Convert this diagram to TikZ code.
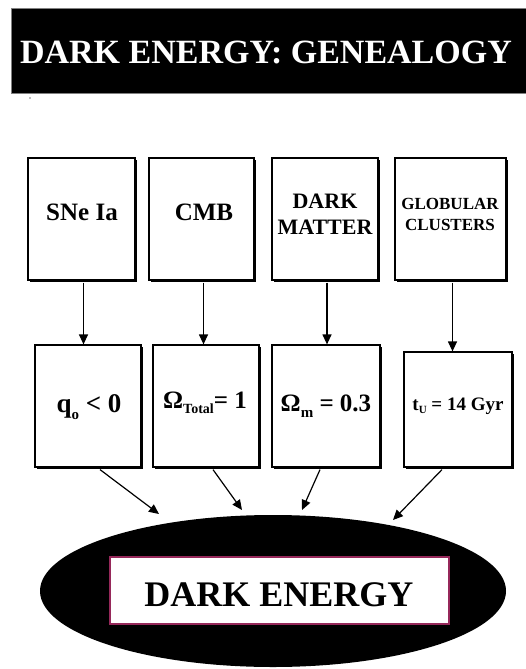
\documentclass[tikz,border=0pt]{standalone}
\usepackage{fontspec}
\setmainfont{Liberation Serif}
\usetikzlibrary{arrows.meta,shapes.geometric,calc,shadows}
\begin{document}
\begin{tikzpicture}[x=1pt,y=-1pt,
  box/.style={draw,line width=1.2pt,fill=white,inner sep=0pt,
    drop shadow={shadow xshift=2pt,shadow yshift=-2pt,fill=black,opacity=1}},
  lbl/.style={inner sep=0pt,align=center},
  arr/.style={-{Triangle[length=10pt,width=9pt]},line width=1.2pt}]
\useasboundingbox (0,0) rectangle (526,669);
% title
\node[draw=gray,line width=1pt,fill=black,minimum width=520,minimum height=84,inner sep=0pt] (title) at (271,51) {};
\node[lbl,text=white,font=\fontsize{34}{40}\selectfont\bfseries] (titletext) at (266,52) {DARK ENERGY: GENEALOGY};
\fill[gray] (30,98) circle (0.9);
% top row
\node[box,minimum width=107,minimum height=122] (b1) at (81.5,219) {};
\node[box,minimum width=105,minimum height=122] (b2) at (201.5,219) {};
\node[box,minimum width=106,minimum height=122] (b3) at (325,219) {};
\node[box,minimum width=111,minimum height=122] (b4) at (450.5,219) {};
\node[lbl,font=\fontsize{25}{30}\selectfont\bfseries] (t1) at (82,212) {SNe Ia};
\node[lbl,font=\fontsize{25}{30}\selectfont\bfseries] (t2) at (204,212) {CMB};
\node[lbl,font=\fontsize{22}{26}\selectfont\bfseries] (t3) at (325,214) {DARK\\MATTER};
\node[lbl,font=\fontsize{17}{21}\selectfont\bfseries] (t4) at (450,214) {GLOBULAR\\CLUSTERS};
% second row
\node[box,minimum width=106,minimum height=122] (c1) at (88,406) {};
\node[box,minimum width=106,minimum height=122] (c2) at (206,406) {};
\node[box,minimum width=108,minimum height=122] (c3) at (326,406) {};
\node[box,minimum width=108,minimum height=115] (c4) at (458,409.5) {};
\node[lbl,font=\fontsize{27}{32}\selectfont\bfseries] (u1) at (89,407) {q\raisebox{-0.5ex}{\fontsize{15}{18}\selectfont o} < 0};
\node[lbl,font=\fontsize{25}{30}\selectfont\bfseries] (u2) at (205,403) {Ω\raisebox{-0.4ex}{\fontsize{14}{16}\selectfont Total}= 1};
\node[lbl,font=\fontsize{25}{30}\selectfont\bfseries] (u3) at (326,406) {Ω\raisebox{-0.5ex}{\fontsize{15}{18}\selectfont m} = 0.3};
\node[lbl,font=\fontsize{19}{23}\selectfont\bfseries] (u4) at (458,406) {t\raisebox{-0.4ex}{\fontsize{11}{13}\selectfont U} = 14 Gyr};
% vertical arrows
\foreach \i in {1,2,3,4}{
  \draw[arr] ($(b\i.south)+(2,2)$) -- ($(b\i.south |- c\i.north)+(2,0)$);
}
% ellipse
\node[ellipse,fill=black,minimum width=466,minimum height=152,inner sep=0pt] (E) at (273,591) {};
\node[draw={rgb,255:red,150;green,40;blue,90},line width=1.2pt,fill=white,minimum width=339,minimum height=67,inner sep=0pt] (D) at (279.5,590.5) {};
\node[lbl,font=\fontsize{36}{42}\selectfont\bfseries] (DT) at (279,595) {DARK ENERGY};
% diagonal arrows
\coordinate (a1) at (159,514);
\coordinate (a2) at (242,510);
\coordinate (a3) at (302,510);
\coordinate (a4) at (393,520);
\draw[arr] ($(c1.south)+(12,2)$) -- (a1);
\draw[arr] ($(c2.south)+(7,2)$) -- (a2);
\draw[arr] ($(c3.south)+(-6,2)$) -- (a3);
\draw[arr] ($(c4.south)+(-16,2)$) -- (a4);
\end{tikzpicture}
\end{document}
